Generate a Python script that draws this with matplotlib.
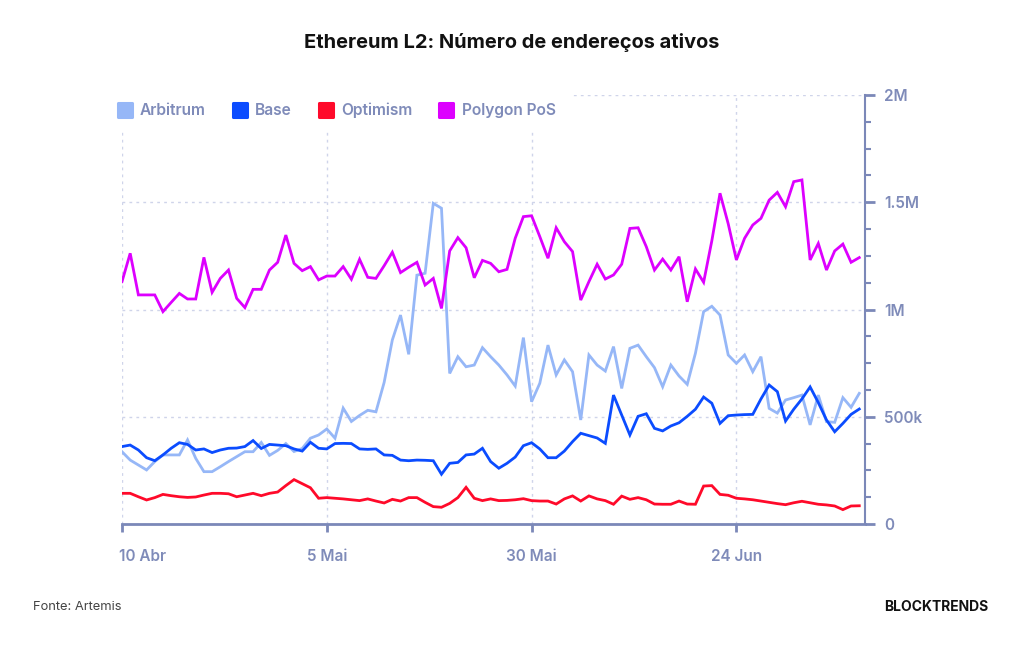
import matplotlib
matplotlib.use('Agg')
import matplotlib.pyplot as plt
import numpy as np
import pandas as pd
from matplotlib.lines import Line2D
from matplotlib.markers import MarkerStyle
from matplotlib.ticker import MultipleLocator
from matplotlib.transforms import ScaledTranslation

plt.rcParams['font.family'] = ['Inter', 'DejaVu Sans']

# daily active addresses, thousands (10 Abr -> 9 Jul)
dates = pd.date_range('2024-04-10', periods=91, freq='D')

arbitrum = [337, 298, 275, 252, 291, 322, 322, 322, 392, 306,
            244, 244, 267, 291, 314, 337, 337, 380, 320, 343,
            375, 338, 352, 400, 415, 443, 400, 540, 478, 506,
            530, 523, 660, 858, 974, 791, 1160, 1169, 1495, 1472,
            702, 780, 733, 741, 822, 780, 741, 695, 643, 869,
            570, 656, 834, 695, 765, 710, 485, 788, 741, 713,
            827, 632, 819, 834, 780, 729, 640, 741, 690, 651,
            796, 990, 1015, 974, 788, 749, 788, 710, 780, 539,
            517, 578, 589, 601, 462, 601, 477, 474, 589, 544,
            609]
base = [361, 368, 345, 309, 295, 322, 353, 379, 371, 345,
        350, 333, 345, 353, 354, 361, 389, 352, 371, 368,
        365, 350, 340, 381, 353, 350, 375, 376, 375, 350,
        348, 350, 322, 320, 298, 295, 298, 297, 295, 232,
        283, 287, 322, 326, 353, 291, 260, 283, 312, 365,
        379, 350, 309, 309, 340, 384, 423, 412, 401, 376,
        601, 508, 415, 502, 514, 446, 434, 457, 472, 502,
        535, 592, 563, 469, 505, 508, 510, 511, 583, 648,
        617, 480, 535, 583, 639, 566, 485, 430, 469, 511,
        536]
optimism = [143, 143, 127, 112, 123, 138, 132, 127, 124, 126,
            135, 143, 143, 141, 127, 135, 143, 132, 143, 149,
            179, 207, 188, 169, 120, 123, 120, 117, 113, 109,
            117, 107, 98, 115, 107, 123, 123, 101, 81, 78,
            96, 123, 171, 120, 109, 117, 109, 110, 113, 118,
            109, 107, 107, 93, 117, 131, 107, 131, 117, 109,
            92, 130, 115, 123, 113, 93, 92, 92, 107, 93,
            92, 177, 179, 138, 134, 120, 117, 113, 107, 101,
            95, 90, 99, 106, 99, 92, 89, 84, 67, 84,
            85]
polygon = [1130, 1262, 1068, 1068, 1068, 990, 1033, 1075, 1049, 1049,
           1243, 1080, 1145, 1184, 1052, 1009, 1094, 1094, 1184, 1220,
           1347, 1215, 1181, 1200, 1138, 1156, 1156, 1200, 1141, 1234,
           1150, 1145, 1204, 1267, 1172, 1197, 1220, 1114, 1145, 1005,
           1273, 1335, 1288, 1148, 1229, 1215, 1176, 1187, 1332, 1433,
           1437, 1340, 1239, 1381, 1316, 1270, 1044, 1130, 1211, 1142,
           1161, 1211, 1378, 1381, 1293, 1184, 1235, 1184, 1246, 1036,
           1189, 1127, 1320, 1542, 1400, 1231, 1332, 1394, 1425, 1510,
           1546, 1479, 1596, 1604, 1231, 1308, 1184, 1273, 1305, 1220,
           1242]

names = ['Arbitrum', 'Base', 'Optimism', 'Polygon PoS']
colors = ['#96b7f7', '#0b4cff', '#ff0a2a', '#dd00ff']

tick_dates = ['2024-04-10', '2024-05-05', '2024-05-30', '2024-06-24']
tick_labels = ['10 Abr', '5 Mai', '30 Mai', '24 Jun']
y_ticks = [0, 500000, 1000000, 1500000, 2000000]
y_labels = ['0', '500k', '1M', '1.5M', '2M']

axis_color = '#7b88b8'
label_color = '#7f8bb9'
grid_color = '#cfd4ea'

fig = plt.figure(figsize=(10.24, 6.45), dpi=100)
ax = fig.add_axes([122/1024, 1-524/645, (865-122)/1024, (524-95)/645])

for vals, name, c in zip([arbitrum, base, optimism, polygon], names, colors):
    ax.plot(dates, np.array(vals)*1000, color=c, lw=2.0, label=name,
            solid_joinstyle='miter')

ax.set_xlim(dates[0], dates[0] + pd.Timedelta(days=90.7))
ax.set_ylim(0, 2e6)

for s in ['top', 'left']:
    ax.spines[s].set_visible(False)
ax.spines['bottom'].set_color(axis_color)
ax.spines['bottom'].set_linewidth(2)
ax.spines['right'].set_color(axis_color)
ax.spines['right'].set_linewidth(1.5)

ax.yaxis.tick_right()
ax.set_yticks(y_ticks)
ax.set_yticklabels(y_labels)
ax.yaxis.set_minor_locator(MultipleLocator(125000))
ax.tick_params(axis='y', which='major', length=7, width=2, color=axis_color,
               pad=7, labelsize=11, labelcolor=label_color)
ax.tick_params(axis='y', which='minor', length=4, width=1.5, color=axis_color)

ax.set_xticks(pd.to_datetime(tick_dates))
ax.set_xticklabels(tick_labels)
ax.tick_params(axis='x', length=6, width=2, color=axis_color, pad=12,
               labelsize=11, labelcolor=label_color)

for lab in ax.get_xticklabels() + ax.get_yticklabels():
    lab.set_fontweight('semibold')
first = ax.get_xticklabels()[0]
first.set_ha('left')
first.set_transform(first.get_transform() + ScaledTranslation(-2/72, 0, fig.dpi_scale_trans))

ax.set_axisbelow(True)
ax.grid(True, which='major', color=grid_color, lw=1, ls=(0, (2, 3)))

handles = [Line2D([], [], ls='none', marker=MarkerStyle('s', joinstyle='round'),
                  markersize=10, markerfacecolor=c, markeredgecolor=c,
                  markeredgewidth=2.2) for c in colors]
leg = ax.legend(handles, names, loc='center left',
                bbox_to_anchor=(102/1024, 1-110.5/645), bbox_transform=fig.transFigure,
                ncol=4, frameon=True, framealpha=1, facecolor='white', edgecolor='none',
                fancybox=False, handlelength=1.1, handletextpad=0.45,
                columnspacing=1.62, borderpad=0.9, borderaxespad=0,
                prop={'weight': 'semibold', 'size': 11.2})
for t in leg.get_texts():
    t.set_color(label_color)

fig.text(0.5, 1-43/645, 'Ethereum L2: Número de endereços ativos', ha='center',
         va='center', fontsize=14.4, fontweight='bold', color='#111111')
fig.text(33/1024, 1-607/645, 'Fonte: Artemis', ha='left', va='center',
         fontsize=9.3, color='#444444')
fig.text(988/1024, 1-607/645, 'BLOCKTRENDS', ha='right', va='center',
         fontsize=10, fontweight='bold', color='#111111')

fig.savefig('out.png', dpi=100)
